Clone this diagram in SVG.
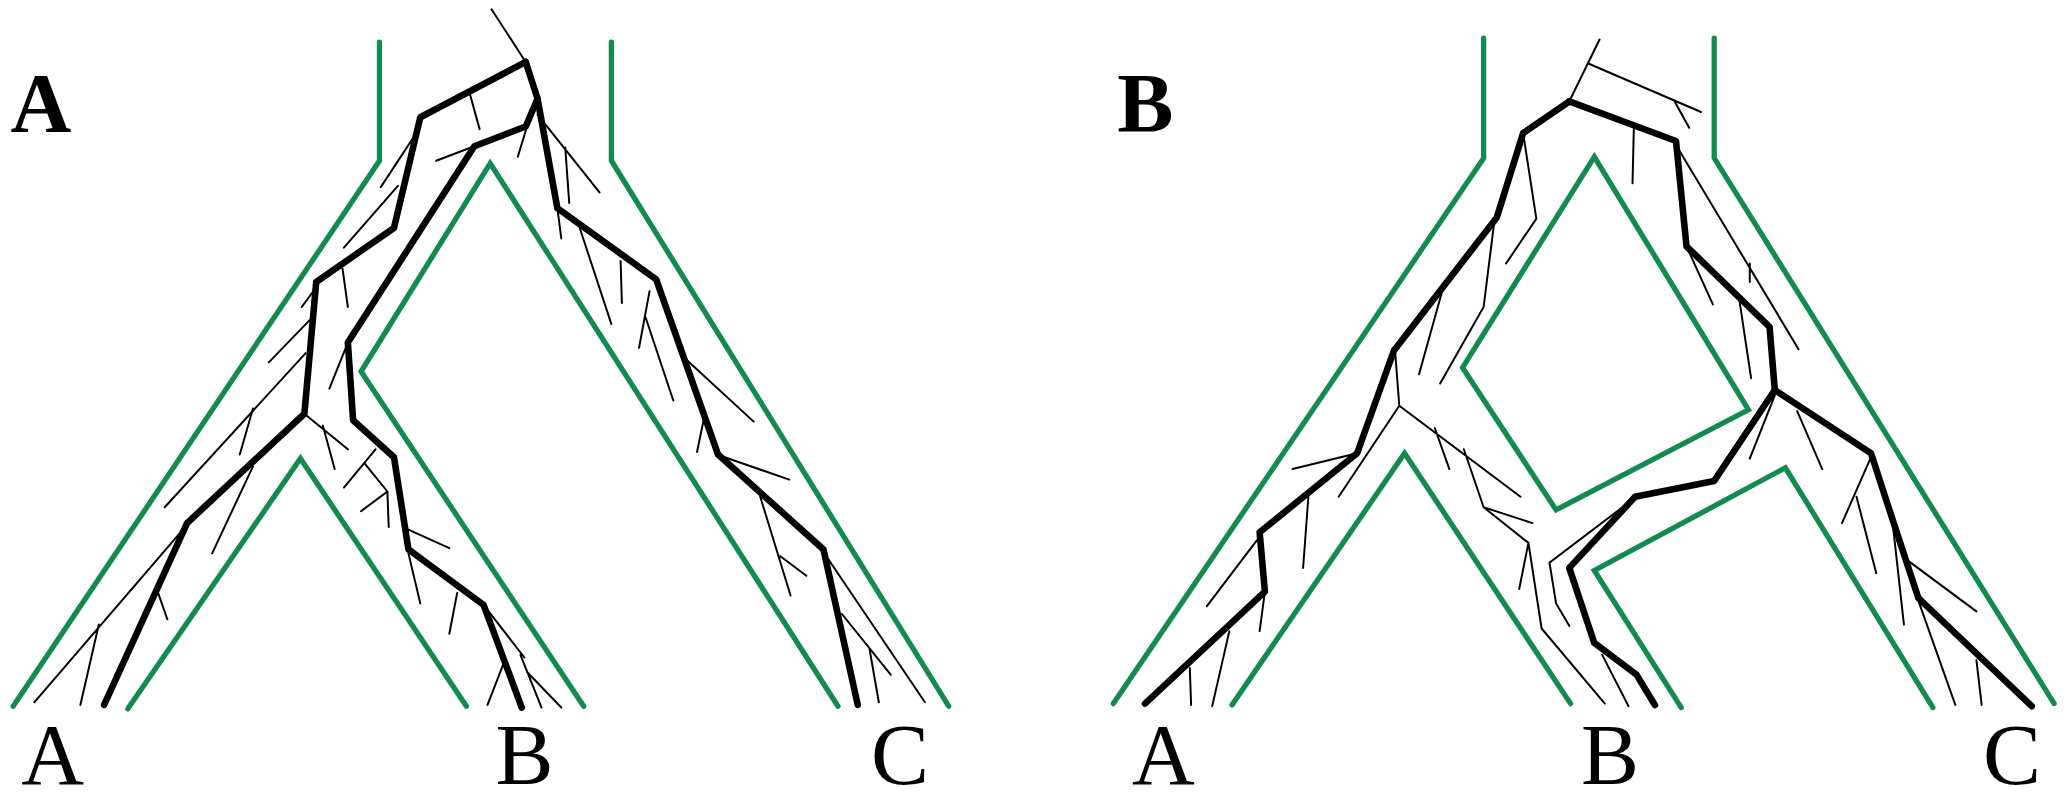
<svg xmlns="http://www.w3.org/2000/svg" width="2066" height="800" viewBox="0 0 2066 800">
<style>
.g{fill:none;stroke:#138a4f;stroke-width:4;stroke-linecap:round;stroke-linejoin:miter}
.k{fill:none;stroke:#000;stroke-width:5;stroke-linecap:round;stroke-linejoin:round}
.t{fill:none;stroke:#000;stroke-width:1.5;stroke-linecap:round}
.lab{font-family:"Liberation Serif",serif;font-size:66px;text-anchor:middle}
.pl{font-family:"Liberation Serif",serif;font-size:64px;font-weight:bold}
</style>
<rect width="2066" height="800" fill="#fff"/>
<g transform="scale(1.3176)">
<g id="panelA">
<g id="speciesA">
<path class="g" d="M288,32V122L10,536"/>
<path class="g" d="M97,538L228,348L354,536"/>
<path class="g" d="M443,536L274,282L372,124L636,536"/>
<path class="g" d="M464,32V122L720,536"/>
</g>
<g id="geneA">
<path class="k" d="M399,47L319,89L299,173L240,214L231,314L142,397L79,535"/>
<path class="k" d="M399,47L408,75L399,96L360,111L264,260L268,319L299,347L310,417L367,459L396,537"/>
<path class="k" d="M408,75L423,158L498,212L545,345L625,417L651,535"/>
<path class="t" d="M373,7L399,47 M360,111L331,122 M356,69L364,98 M314,104L289,142 M302,141L261,188 M240,218L229,233 M260,204L264,233 M235,243L204,275 M232,268L125,385 M192,310L182,345 M192,354L161,420 M231,314L264,341 M245,323L254,356 M137,404L26,533 M75,474L61,535 M120,450L127,470 M264,260L250,295 M285,341L261,370 M277,352L294,373L274,388 M294,373L295,400 M310,402L341,416 M310,420L319,458 M347,450L341,481 M367,459L398,499 M382,504L370,535 M395,497L411,537 M400,510L426,537 M408,87L455,146 M429,112L432,154 M400,96L393,119 M423,158L426,181 M440,173L464,246 M471,198L472,230 M493,221L485,264 M490,241L511,304 M521,273L572,320 M535,314L529,343 M550,347L599,364 M577,377L600,452 M592,422L612,437 M627,422L702,533 M639,466L676,512 M660,493L667,533"/>
</g>
<g id="labelsA">
<text class="pl" x="8" y="100">A</text>
<text class="lab" x="40" y="595">A</text>
<text class="lab" x="398" y="595">B</text>
<text class="lab" x="683" y="595">C</text>
</g>
</g>
<g id="panelB">
<g id="speciesB">
<path class="g" d="M1126,29V120L845,534"/>
<path class="g" d="M935,535L1066,344L1192,534"/>
<path class="g" d="M1210,119L1110,279L1181,387L1327,311Z"/>
<path class="g" d="M1276,537L1210,433L1355,355L1467,537"/>
<path class="g" d="M1301,29V120L1559,534"/>
</g>
<g id="geneB">
<path class="k" d="M1191,77L1156,101L1136,165L1058,266L1030,344L956,404L960,449L869,534"/>
<path class="k" d="M1191,77L1272,107L1280,187L1343,248L1347,296L1301,365L1241,377L1191,431L1210,488L1242,512L1256,535"/>
<path class="k" d="M1347,296L1420,344L1434,387L1456,454L1542,536"/>
<path class="t" d="M1191,77L1214,30 M1205,48L1291,85 M1271,77L1282,97 M1240,98L1239,139 M1272,110L1365,265 M1328,200L1328,214 M1280,187L1300,231 M1320,227L1329,287 M1156,101L1166,166L1143,200 M1134,169L1126,233L1093,291 M1094,223L1077,284 M1059,269L1062,308 M1062,308L1016,377 M1062,308L1154,377 M1089,325L1100,356 M1111,341L1126,385L1163,397 M1126,385L1160,412L1170,477L1218,534 M1160,412L1153,447 M1030,344L981,356 M993,377L989,431 M954,410L916,460 M960,449L956,479 M933,479L920,536 M903,507L904,535 M1234,383L1176,427L1181,458L1191,475 M1216,497L1236,536 M1347,300L1328,348 M1364,312L1383,356 M1420,347L1398,397 M1409,377L1424,435 M1436,393L1445,474 M1446,424L1500,464 M1456,456L1484,535 M1500,501L1504,535"/>
</g>
<g id="labelsB">
<text class="pl" x="848" y="100">B</text>
<text class="lab" x="883" y="595">A</text>
<text class="lab" x="1222" y="595">B</text>
<text class="lab" x="1527" y="595">C</text>
</g>
</g>
</g>
</svg>
